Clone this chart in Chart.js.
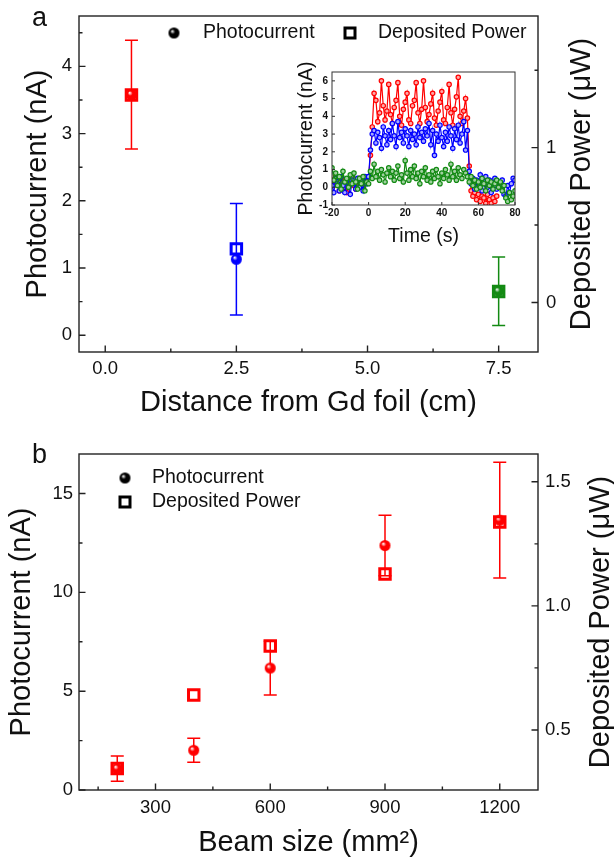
<!DOCTYPE html>
<html>
<head>
<meta charset="utf-8">
<script src="https://cdn.jsdelivr.net/npm/chart.js@4.4.1/dist/chart.umd.min.js"></script>
<style>
  body { margin: 0; background: #fff; overflow: hidden; width: 614px; height: 858px; position: relative;
         font-family: "Liberation Sans", Arial, sans-serif; }
  canvas { position: absolute; }
  .tag { position: absolute; font-size: 27px; line-height: 27px; color: #111; }
</style>
</head>
<body>
<canvas id="chart-a" width="614" height="430" style="left:0px;top:0px"></canvas>
<canvas id="chart-inset" width="240" height="200" style="left:290px;top:55px"></canvas>
<canvas id="chart-b" width="614" height="440" style="left:0px;top:430px"></canvas>
<div class="tag" style="left:32px;top:4px">a</div>
<div class="tag" style="left:32px;top:441px">b</div>
<script>
const FONT = '"Liberation Sans", Arial, sans-serif';
const RED = '#ff0000', BLUE = '#0000ff', GREEN = '#138a13';

// panel a: distance from Gd foil
const distA = [0.5, 2.5, 7.5];
const photoA = [3.58, 1.13, 0.655];
const photoErrA = [0.81, 0.83, 0.51];
const powerA = [1.34, 0.346, 0.071];
const colorsA = [RED, BLUE, GREEN];
const xTicksA = [0, 2.5, 5, 7.5];
const xMinorA = [1.25, 3.75, 6.25];
const yTicksA = [0, 1, 2, 3, 4];
const yMinorA = [0.5, 1.5, 2.5, 3.5, 4.5];
const y2TicksA = [0, 1];
const y2MinorA = [0.5, 1.5];

// inset: photocurrent vs time (s)
const insetTime = [-20,-19,-18,-17,-16,-15,-14,-13,-12,-11,-10,-9,-8,-7,-6,-5,-4,-3,-2,-1,
  0,1,2,3,4,5,6,7,8,9,10,11,12,13,14,15,16,17,18,19,20,21,22,23,24,25,26,27,28,29,
  30,31,32,33,34,35,36,37,38,39,40,41,42,43,44,45,46,47,48,49,50,51,52,53,54,
  55,56,57,58,59,60,61,62,63,64,65,66,67,68,69,70,71,72,73,74,75,76,77,78,79,80];
const insetRed = [0.4,0.1,0.6,0.2,-0.2,0.5,0.3,0.0,-0.3,0.4,0.2,0.6,0.1,-0.1,0.3,0.5,0.2,0.0,0.4,0.3,
  0.6,1.8,3.4,5.3,4.9,3.7,4.2,6.0,4.6,3.8,4.3,5.8,4.1,3.6,4.5,4.9,5.9,4.0,3.5,4.4,
  4.8,5.3,3.8,3.6,4.6,4.9,5.9,4.2,3.6,4.4,6.0,4.5,3.7,4.1,4.7,5.3,3.9,3.5,4.3,4.8,
  5.4,3.8,3.6,4.5,5.8,4.2,3.5,4.4,5.1,6.2,4.0,3.6,4.3,5.0,3.9,
  1.2,-0.2,-0.5,-0.3,-0.7,-0.4,-0.8,-0.5,-0.6,-0.9,-0.4,-0.7,-0.9,-0.6,-0.8,-0.5];
const insetBlue = [0.1,-0.3,0.5,0.2,-0.2,0.6,0.1,-0.3,0.3,0.0,-0.4,0.4,0.2,-0.1,0.5,0.0,0.3,-0.2,0.6,0.2,
  0.6,2.1,3.0,3.2,2.5,3.1,2.8,2.2,3.4,2.9,2.4,3.2,2.7,3.6,2.9,2.3,3.7,2.8,3.1,2.5,
  3.3,2.9,2.3,3.2,2.7,3.0,2.4,3.4,2.8,3.1,2.6,3.3,2.9,3.6,2.4,3.2,1.8,3.0,2.6,3.5,
  2.8,2.3,3.1,2.6,3.4,2.9,2.2,3.3,2.7,3.5,2.5,3.0,3.7,2.1,3.2,
  0.9,0.2,0.5,-0.1,0.4,0.1,0.7,-0.2,0.3,0.6,0.0,0.4,-0.3,0.2,0.5,-0.1,0.3,0.0,0.4,-0.4,
  -0.5,0.1,-0.3,0.2,0.5,0.4];
const insetGreen = [1.1,0.4,0.8,0.1,0.6,-0.1,0.9,0.3,0.5,0.0,0.7,0.2,0.8,0.3,-0.1,0.5,0.2,0.6,-0.2,0.3,
  0.2,0.9,0.5,1.3,0.6,0.9,0.4,1.0,0.7,0.3,0.8,1.1,0.6,0.9,0.4,0.8,1.2,0.5,0.7,0.3,
  1.5,0.8,0.4,1.0,0.6,1.2,0.5,0.8,0.2,0.9,0.6,1.1,0.4,0.7,0.3,0.9,0.5,1.0,0.6,0.2,
  0.8,0.5,1.0,0.7,0.4,1.3,0.6,0.9,0.4,1.1,0.7,0.5,1.0,0.8,0.6,
  0.3,0.6,0.1,0.4,-0.1,0.3,0.0,0.5,0.2,-0.2,0.4,0.1,0.3,-0.1,0.2,0.4,0.0,0.3,-0.2,0.1,
  -0.6,-0.8,-0.3,-0.7,-0.5,-0.2];
const insetXTicks = [-20, 0, 20, 40, 60, 80];
const insetYTicks = [-1, 0, 1, 2, 3, 4, 5, 6];

// panel b: beam size
const beamSize = [200, 400, 600, 900, 1200];
const photoB = [1.08, 2.01, 6.17, 12.37, 13.65];
const photoErrB = [0.64, 0.61, 1.36, 1.53, 2.93];
const powerB = [0.345, 0.641, 0.838, 1.128, 1.338];
const xTicksB = [300, 600, 900, 1200];
const xMinorB = [150, 450, 750, 1050];
const yTicksB = [0, 5, 10, 15];
const yMinorB = [2.5, 7.5, 12.5];
const y2TicksB = [0.5, 1.0, 1.5];
const y2MinorB = [0.75, 1.25];

// 3d-ish ball marker
function ball(color, r) {
  const c = document.createElement('canvas');
  c.width = c.height = 2 * r + 2;
  const g = c.getContext('2d');
  const m = r + 1;
  const grad = g.createRadialGradient(m - r * 0.35, m - r * 0.35, 0.3, m, m, r);
  grad.addColorStop(0, '#ffffff');
  grad.addColorStop(0.4, color);
  grad.addColorStop(1, color);
  g.fillStyle = grad;
  g.beginPath();
  g.arc(m, m, r, 0, Math.PI * 2);
  g.fill();
  return c;
}

function scale(o) {
  return {
    type: 'linear', position: o.position, min: o.min, max: o.max,
    afterBuildTicks: s => { s.ticks = o.ticks.map(v => ({ value: v })); },
    afterFit: s => {
      if (o.width != null) s.width = o.width;
      if (o.height != null) s.height = o.height;
      s.paddingTop = 0; s.paddingBottom = 0; s.paddingLeft = 0; s.paddingRight = 0;
    },
    grid: { display: false, drawTicks: false },
    border: { display: false },
    ticks: {
      autoSkip: false, maxRotation: 0, padding: o.pad, color: '#111',
      font: { family: FONT, size: o.fontSize || 18.5, weight: o.bold ? 'bold' : 'normal' },
      callback: v => o.fmt ? o.fmt(v) : String(v)
    },
    title: o.title
      ? { display: true, text: o.title, color: '#111', font: { family: FONT, size: o.titleSize || 29 }, padding: o.titlePad }
      : { display: false }
  };
}

// box + inward ticks
function framePlugin(marks, st) {
  return {
    id: 'frame',
    afterDraw(chart) {
      const { ctx, chartArea: a } = chart;
      ctx.save();
      ctx.strokeStyle = st.color;
      ctx.lineWidth = st.width;
      ctx.strokeRect(a.left, a.top, a.right - a.left, a.bottom - a.top);
      ctx.beginPath();
      marks.forEach(m => {
        const s = chart.scales[m.id];
        const len = m.minor ? st.minor : st.major;
        m.values.forEach(v => {
          const p = s.getPixelForValue(v);
          if (s.isHorizontal()) { ctx.moveTo(p, a.bottom); ctx.lineTo(p, a.bottom - len); }
          else if (s.position === 'left') { ctx.moveTo(a.left, p); ctx.lineTo(a.left + len, p); }
          else { ctx.moveTo(a.right, p); ctx.lineTo(a.right - len, p); }
        });
      });
      ctx.stroke();
      ctx.restore();
    }
  };
}

const errorBarPlugin = {
  id: 'errbars',
  beforeDatasetsDraw(chart) {
    const ctx = chart.ctx;
    chart.data.datasets.forEach((ds, i) => {
      if (!ds.errors) return;
      const meta = chart.getDatasetMeta(i);
      const xs = chart.scales[meta.xAxisID], ys = chart.scales[meta.yAxisID];
      ds.data.forEach((p, j) => {
        const x = xs.getPixelForValue(p.x);
        const lo = ys.getPixelForValue(p.y - ds.errors[j]);
        const hi = ys.getPixelForValue(p.y + ds.errors[j]);
        ctx.save();
        ctx.strokeStyle = ds.errColors[j];
        ctx.lineWidth = 1.5;
        ctx.beginPath();
        ctx.moveTo(x, lo); ctx.lineTo(x, hi);
        ctx.moveTo(x - 6.5, lo); ctx.lineTo(x + 6.5, lo);
        ctx.moveTo(x - 6.5, hi); ctx.lineTo(x + 6.5, hi);
        ctx.stroke();
        ctx.restore();
      });
    });
  }
};

const blackBall = ball('#000000', 5.5);
function legendPlugin(items) {
  return {
    id: 'keys',
    afterDraw(chart) {
      const ctx = chart.ctx;
      ctx.save();
      items.forEach(it => {
        if (it.kind === 'ball') {
          ctx.drawImage(blackBall, it.x - blackBall.width / 2, it.y - blackBall.height / 2);
        } else {
          ctx.strokeStyle = '#000';
          ctx.lineWidth = 3;
          ctx.strokeRect(it.x - 5, it.y - 5, 10, 10);
        }
        ctx.fillStyle = '#111';
        ctx.font = '19.5px ' + FONT;
        ctx.textAlign = 'left';
        ctx.textBaseline = 'middle';
        ctx.fillText(it.text, it.tx, it.y);
      });
      ctx.restore();
    }
  };
}

// right axis title, reads bottom to top like the left one
function sideTitle(text, x) {
  return {
    id: 'sideTitle',
    afterDraw(chart) {
      const { ctx, chartArea: a } = chart;
      ctx.save();
      ctx.translate(x, (a.top + a.bottom) / 2);
      ctx.rotate(-Math.PI / 2);
      ctx.fillStyle = '#111';
      ctx.font = '29px ' + FONT;
      ctx.textAlign = 'center';
      ctx.textBaseline = 'middle';
      ctx.fillText(text, 0, 0);
      ctx.restore();
    }
  };
}

const base = {
  animation: false, responsive: false, devicePixelRatio: 1, events: [],
  plugins: { legend: { display: false }, tooltip: { enabled: false } }
};

// ---- panel a ----
new Chart(document.getElementById('chart-a'), {
  type: 'scatter',
  data: {
    datasets: [
      {
        data: distA.map((x, i) => ({ x, y: powerA[i] })), yAxisID: 'y2',
        pointStyle: 'rect', pointRadius: 7.4, pointBorderWidth: 3,
        pointBorderColor: colorsA, pointBackgroundColor: 'rgba(0,0,0,0)'
      },
      {
        data: distA.map((x, i) => ({ x, y: photoA[i] })), yAxisID: 'y',
        pointStyle: colorsA.map(c => ball(c, 5.5)), pointRadius: 5.5,
        errors: photoErrA, errColors: colorsA
      }
    ]
  },
  options: {
    ...base,
    layout: { padding: { top: 16, left: 0, right: 0, bottom: 0 } },
    scales: {
      x: scale({ position: 'bottom', min: -0.5, max: 8.25, ticks: xTicksA, fmt: v => v.toFixed(1), pad: 6,
        height: 78, title: 'Distance from Gd foil (cm)', titlePad: { top: 0, bottom: 9.6 } }),
      y: scale({ position: 'left', min: -0.25, max: 4.75, ticks: yTicksA, pad: 7,
        width: 79, title: 'Photocurrent (nA)', titlePad: { top: 21, bottom: 0 } }),
      y2: scale({ position: 'right', min: -0.32, max: 1.85, ticks: y2TicksA, pad: 8, width: 76 })
    }
  },
  plugins: [
    errorBarPlugin,
    framePlugin([
      { id: 'x', values: xTicksA }, { id: 'x', values: xMinorA, minor: true },
      { id: 'y', values: yTicksA }, { id: 'y', values: yMinorA, minor: true },
      { id: 'y2', values: y2TicksA }, { id: 'y2', values: y2MinorA, minor: true }
    ], { color: '#222', width: 1.4, major: 6.5, minor: 3.5 }),
    legendPlugin([
      { kind: 'ball', x: 174, y: 33, tx: 203, text: 'Photocurrent' },
      { kind: 'square', x: 350, y: 33, tx: 378, text: 'Deposited Power' }
    ]),
    sideTitle('Deposited Power (\u03bcW)', 582)
  ]
});

// ---- inset ----
function insetSet(vals, color, light) {
  return {
    data: vals.map((y, i) => ({ x: insetTime[i], y })),
    showLine: true, borderColor: color, borderWidth: 1.2,
    pointRadius: 2.2, pointBorderWidth: 1.2, pointBorderColor: color, pointBackgroundColor: light
  };
}
new Chart(document.getElementById('chart-inset'), {
  type: 'scatter',
  data: {
    datasets: [
      insetSet(insetGreen, GREEN, '#9fd09f'),
      insetSet(insetBlue, BLUE, '#a8a8ff'),
      insetSet(insetRed, RED, '#ffa8a8')
    ]
  },
  options: {
    ...base,
    layout: { padding: { top: 17, left: 0, right: 15, bottom: 0 } },
    scales: {
      x: scale({ position: 'bottom', min: -20, max: 80, ticks: insetXTicks, pad: 2, fontSize: 10, bold: true,
        height: 50, title: 'Time (s)', titleSize: 19.5, titlePad: { top: 0, bottom: 6.3 } }),
      y: scale({ position: 'left', min: -1, max: 6.5, ticks: insetYTicks, pad: 4, fontSize: 10, bold: true,
        width: 42, title: 'Photocurrent (nA)', titleSize: 19.5, titlePad: { top: 5.3, bottom: 0 } })
    }
  },
  plugins: [
    framePlugin([{ id: 'x', values: insetXTicks }, { id: 'y', values: insetYTicks }],
      { color: '#333', width: 1, major: 3, minor: 2 })
  ]
});

// ---- panel b ----
new Chart(document.getElementById('chart-b'), {
  type: 'scatter',
  data: {
    datasets: [
      {
        data: beamSize.map((x, i) => ({ x, y: powerB[i] })), yAxisID: 'y2',
        pointStyle: 'rect', pointRadius: 7.4, pointBorderWidth: 3,
        pointBorderColor: RED, pointBackgroundColor: 'rgba(0,0,0,0)'
      },
      {
        data: beamSize.map((x, i) => ({ x, y: photoB[i] })), yAxisID: 'y',
        pointStyle: ball(RED, 5.5), pointRadius: 5.5,
        errors: photoErrB, errColors: beamSize.map(() => RED)
      }
    ]
  },
  options: {
    ...base,
    layout: { padding: { top: 24, left: 0, right: 0, bottom: 0 } },
    scales: {
      x: scale({ position: 'bottom', min: 100, max: 1300, ticks: xTicksB, pad: 7,
        height: 80, title: 'Beam size (mm\u00b2)', titlePad: { top: 0, bottom: 9.6 } }),
      y: scale({ position: 'left', min: 0, max: 17, ticks: yTicksB, pad: 6,
        width: 79, title: 'Photocurrent (nA)', titlePad: { top: 4.6, bottom: 0 } }),
      y2: scale({ position: 'right', min: 0.258, max: 1.612, ticks: y2TicksB, fmt: v => v.toFixed(1), pad: 7, width: 76 })
    }
  },
  plugins: [
    errorBarPlugin,
    framePlugin([
      { id: 'x', values: xTicksB }, { id: 'x', values: xMinorB, minor: true },
      { id: 'y', values: yTicksB }, { id: 'y', values: yMinorB, minor: true },
      { id: 'y2', values: y2TicksB }, { id: 'y2', values: y2MinorB, minor: true }
    ], { color: '#222', width: 1.4, major: 6.5, minor: 3.5 }),
    legendPlugin([
      { kind: 'ball', x: 125, y: 48, tx: 152, text: 'Photocurrent' },
      { kind: 'square', x: 125, y: 72, tx: 152, text: 'Deposited Power' }
    ]),
    sideTitle('Deposited Power (\u03bcW)', 601)
  ]
});
</script>
</body>
</html>
